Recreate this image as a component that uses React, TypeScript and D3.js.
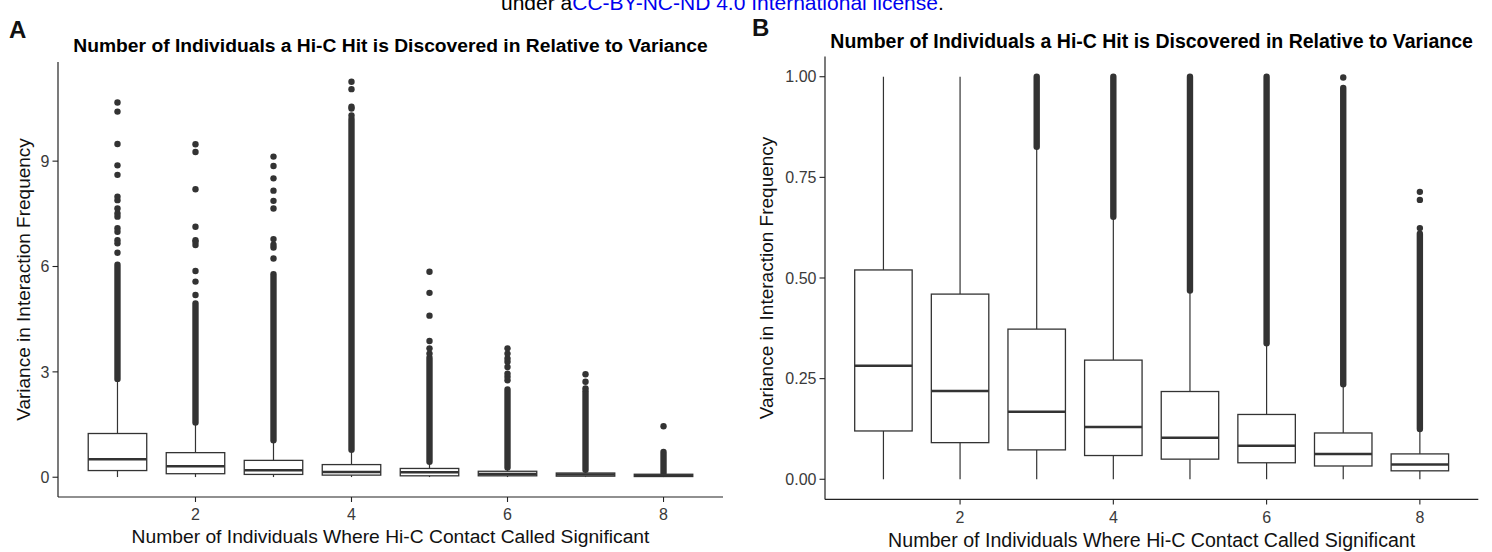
import React from "react";
import * as d3 from "d3";

// Number of individuals in which a Hi-C contact is called significant
const groups = [1, 2, 3, 4, 5, 6, 7, 8];

// Panel A: full variance range
const aQ1 = [0.19, 0.1, 0.08, 0.06, 0.04, 0.04, 0.03, 0.02];
const aMedian = [0.51, 0.31, 0.2, 0.15, 0.14, 0.09, 0.08, 0.05];
const aQ3 = [1.245, 0.7, 0.48, 0.36, 0.25, 0.17, 0.12, 0.085];
const aWhiskerLow = [0.005, 0.005, 0.005, 0.005, 0.005, 0.005, 0.005, 0.005];
const aWhiskerHigh = [2.76, 1.53, 1.01, 0.75, 0.41, 0.25, 0.18, 0.1];
// continuous runs of overlapping outliers [from, to]
const aDenseOutliers = [
  [2.8, 6.05],
  [1.56, 4.95],
  [1.05, 5.78],
  [0.78, 10.2],
  [0.44, 3.4],
  [0.28, 2.5],
  [0.21, 2.45],
  [0.12, 0.72],
];
// isolated outliers above the runs
const aSparseOutliers = [
  [6.39, 6.66, 6.75, 6.99, 7.09, 7.42, 7.51, 7.65, 7.89, 7.99, 8.61, 8.88, 9.49, 10.41, 10.67],
  [5.19, 5.57, 5.87, 6.61, 6.7, 6.75, 7.13, 8.2, 9.26, 9.48],
  [6.23, 6.54, 6.62, 6.78, 7.65, 7.87, 8.16, 8.51, 8.86, 9.13],
  [10.3, 10.5, 10.55, 11.05, 11.26],
  [3.52, 3.67, 3.88, 4.6, 5.25, 5.85],
  [2.76, 2.86, 2.95, 3.14, 3.29, 3.38, 3.52, 3.67],
  [2.53, 2.72, 2.93],
  [1.45],
];
const aTicks = [0, 3, 6, 9];

// Panel B: variance restricted to [0, 1]
const bQ1 = [0.12, 0.091, 0.073, 0.059, 0.05, 0.041, 0.033, 0.021];
const bMedian = [0.282, 0.219, 0.168, 0.13, 0.103, 0.083, 0.063, 0.037];
const bQ3 = [0.52, 0.46, 0.373, 0.296, 0.218, 0.161, 0.115, 0.063];
const bWhiskerLow = [0, 0, 0, 0, 0, 0, 0, 0];
const bWhiskerHigh = [1.0, 1.0, 0.822, 0.648, 0.465, 0.334, 0.232, 0.121];
const bDenseOutliers = [
  null,
  null,
  [0.826, 1.0],
  [0.652, 1.0],
  [0.469, 1.0],
  [0.338, 1.0],
  [0.236, 0.972],
  [0.125, 0.61],
];
const bSparseOutliers = [[], [], [], [], [], [], [0.998], [0.624, 0.694, 0.714]];
const bTicks = [0, 0.25, 0.5, 0.75, 1.0];

const xTicks = [2, 4, 6, 8];

const TITLE = "Number of Individuals a Hi-C Hit is Discovered in Relative to Variance";
const X_LABEL = "Number of Individuals Where Hi-C Contact Called Significant";
const Y_LABEL = "Variance in Interaction Frequency";

const FONT = "'Liberation Sans', Arial, Helvetica, sans-serif";
const INK = "#333333";
const BOX_WIDTH = 0.75;
const PT_R = 3.2;

type PanelProps = {
  letter: string;
  letterPos: [number, number];
  left: number;
  right: number;
  top: number;
  bottom: number;
  yDomain: [number, number];
  yTicks: number[];
  yFormat: (v: number) => string;
  q1: number[];
  median: number[];
  q3: number[];
  whiskerLow: number[];
  whiskerHigh: number[];
  dense: (number[] | null)[];
  sparse: number[][];
  titleY: number;
  titleSize: number;
  xTickLabelY: number;
  xLabelY: number;
  xLabelSize: number;
  yLabelX: number;
};

function Panel(p: PanelProps) {
  const x = d3.scaleLinear().domain([0.2375, 8.7625]).range([p.left, p.right]);
  const y = d3.scaleLinear().domain(p.yDomain).range([p.bottom, p.top]);
  const half = ((x(1) - x(0)) * BOX_WIDTH) / 2;
  const midX = (p.left + p.right) / 2;
  const midY = (p.top + p.bottom) / 2;

  return (
    <g>
      <text x={p.letterPos[0]} y={p.letterPos[1]} fontFamily={FONT} fontWeight="bold" fontSize={24} fill="#111">
        {p.letter}
      </text>
      <text x={midX} y={p.titleY} textAnchor="middle" fontFamily={FONT} fontWeight="bold" fontSize={p.titleSize} fill="#000">
        {TITLE}
      </text>

      {groups.map((g, i) => {
        const cx = x(g);
        const dense = p.dense[i];
        return (
          <g key={g}>
            {/* whiskers */}
            <line x1={cx} x2={cx} y1={y(p.q3[i])} y2={y(p.whiskerHigh[i])} stroke={INK} strokeWidth={1.2} />
            <line x1={cx} x2={cx} y1={y(p.q1[i])} y2={y(p.whiskerLow[i])} stroke={INK} strokeWidth={1.2} />
            {/* outliers */}
            {dense && (
              <line
                x1={cx}
                x2={cx}
                y1={y(dense[0])}
                y2={y(dense[1])}
                stroke={INK}
                strokeWidth={PT_R * 2}
                strokeLinecap="round"
              />
            )}
            {p.sparse[i].map((v, k) => (
              <circle key={k} cx={cx} cy={y(v)} r={PT_R} fill={INK} />
            ))}
            {/* box */}
            <rect
              x={cx - half}
              y={y(p.q3[i])}
              width={half * 2}
              height={Math.max(0, y(p.q1[i]) - y(p.q3[i]))}
              fill="#fff"
              stroke={INK}
              strokeWidth={1.3}
            />
            <line x1={cx - half} x2={cx + half} y1={y(p.median[i])} y2={y(p.median[i])} stroke={INK} strokeWidth={2.5} />
          </g>
        );
      })}

      {/* axes */}
      <line x1={p.left} x2={p.left} y1={p.top} y2={p.bottom} stroke="#222" strokeWidth={1.2} />
      <line x1={p.left} x2={p.right} y1={p.bottom} y2={p.bottom} stroke="#222" strokeWidth={1.2} />
      {p.yTicks.map((t) => (
        <g key={t}>
          <line x1={p.left - 5.5} x2={p.left} y1={y(t)} y2={y(t)} stroke="#222" strokeWidth={1.1} />
          <text
            x={p.left - 8.5}
            y={y(t)}
            dy="0.36em"
            textAnchor="end"
            fontFamily={FONT}
            fontSize={16}
            fill="#3a3a3a"
          >
            {p.yFormat(t)}
          </text>
        </g>
      ))}
      {xTicks.map((t) => (
        <g key={t}>
          <line x1={x(t)} x2={x(t)} y1={p.bottom} y2={p.bottom + 5} stroke="#222" strokeWidth={1.1} />
          <text x={x(t)} y={p.xTickLabelY} textAnchor="middle" fontFamily={FONT} fontSize={16} fill="#3a3a3a">
            {t}
          </text>
        </g>
      ))}
      <text x={midX} y={p.xLabelY} textAnchor="middle" fontFamily={FONT} fontSize={p.xLabelSize} fill="#111">
        {X_LABEL}
      </text>
      <text
        transform={`translate(${p.yLabelX},${midY}) rotate(-90)`}
        textAnchor="middle"
        fontFamily={FONT}
        fontSize={19}
        fill="#111"
      >
        {Y_LABEL}
      </text>
    </g>
  );
}

export default function App() {
  return (
    <svg
      width={1492}
      height={552}
      viewBox="0 0 1492 552"
      style={{ position: "absolute", left: 0, top: 0, background: "#fff" }}
    >
      <rect width={1492} height={552} fill="#fff" />
      <text x={501} y={10} fontFamily={FONT} fontSize={21} fill="#000">
        under a<tspan fill="#0000ee">CC-BY-NC-ND 4.0 International license</tspan>.
      </text>

      <Panel
        letter="A"
        letterPos={[9, 38]}
        left={58}
        right={723}
        top={62}
        bottom={497}
        yDomain={[-0.563, 11.823]}
        yTicks={aTicks}
        yFormat={(v) => d3.format("d")(v)}
        q1={aQ1}
        median={aMedian}
        q3={aQ3}
        whiskerLow={aWhiskerLow}
        whiskerHigh={aWhiskerHigh}
        dense={aDenseOutliers}
        sparse={aSparseOutliers}
        titleY={52}
        titleSize={19.25}
        xTickLabelY={520}
        xLabelY={542.7}
        xLabelSize={19.25}
        yLabelX={30}
      />
      <Panel
        letter="B"
        letterPos={[752, 35.5]}
        left={825}
        right={1478.3}
        top={56.6}
        bottom={499.4}
        yDomain={[-0.05, 1.05]}
        yTicks={bTicks}
        yFormat={(v) => d3.format(".2f")(v)}
        q1={bQ1}
        median={bMedian}
        q3={bQ3}
        whiskerLow={bWhiskerLow}
        whiskerHigh={bWhiskerHigh}
        dense={bDenseOutliers}
        sparse={bSparseOutliers}
        titleY={47.7}
        titleSize={19.5}
        xTickLabelY={523.3}
        xLabelY={546.7}
        xLabelSize={19.6}
        yLabelX={773}
      />
    </svg>
  );
}
